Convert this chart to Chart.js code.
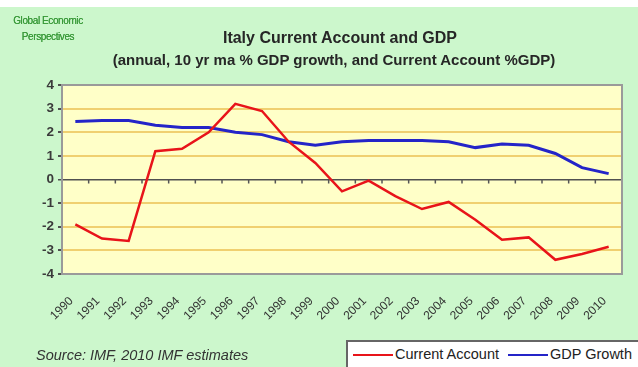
<!DOCTYPE html>
<html>
<head>
<meta charset="utf-8">
<title>Italy Current Account and GDP</title>
<script src="https://cdn.jsdelivr.net/npm/chart.js@4.4.1/dist/chart.umd.min.js"></script>
<style>
  body { margin: 0; background: #fff; }
  #wrap {
    position: relative; width: 638px; height: 367px; overflow: hidden;
    background: #ccf7cc; font-family: Arial, "Liberation Sans", sans-serif;
    border-top: 7px solid #fff; box-sizing: border-box;
  }
  #chart { position: absolute; left: 0; top: -7px; }
  .brand {
    position: absolute; left: 6px; top: 6px; width: 84px; text-align: center;
    color: #3a9a3a; font-size: 10px; line-height: 16px; letter-spacing: -0.4px;
    text-shadow: 0 0 0.4px #3a9a3a;
  }
  .title {
    position: absolute; text-align: center; white-space: nowrap;
    color: #262626; font-weight: bold;
  }
  .source {
    position: absolute; left: 36px; top: 340px; color: #333;
    font-style: italic; font-size: 14.5px;
  }
  .legend {
    position: absolute; left: 346px; top: 333px; width: 300px; height: 40px;
    background: #fff; border: 2px solid #666; box-sizing: border-box;
    font-size: 14.5px; color: #222; padding: 4px 0 0 5px; white-space: nowrap;
  }
  .legend span.sw { display: inline-block; width: 40px; height: 2px; vertical-align: middle; margin-right: 2px; }
  .legend span.lab { margin-right: 5px; }
</style>
</head>
<body>
<div id="wrap">
  <canvas id="chart" width="638" height="367"></canvas>
  <div class="brand">Global Economic<br>Perspectives</div>
  <div class="title" style="top:22px; left:140px; width:400px; font-size:16px">Italy Current Account and GDP</div>
  <div class="title" style="top:44px; left:84px; width:500px; font-size:15px">(annual, 10 yr ma % GDP growth, and Current Account %GDP)</div>
  <div class="source">Source: IMF, 2010 IMF estimates</div>
  <div class="legend">
    <span class="sw" style="background:#e8141a"></span><span class="lab">Current Account</span>
    <span class="sw" style="background:#2424c8"></span><span class="lab">GDP Growth</span>
  </div>
</div>
<script>
const years = ['1990', '1991', '1992', '1993', '1994', '1995', '1996', '1997', '1998', '1999', '2000',
  '2001', '2002', '2003', '2004', '2005', '2006', '2007', '2008', '2009', '2010'];
// current account balance, % of GDP
const currentAccount = [-1.9, -2.5, -2.6, 1.2, 1.3, 2.0, 3.2, 2.9, 1.6, 0.7, -0.5,
  -0.05, -0.7, -1.25, -0.95, -1.7, -2.55, -2.45, -3.4, -3.15, -2.85];
// 10 year moving average of GDP growth
const gdpGrowth = [2.45, 2.5, 2.5, 2.3, 2.2, 2.2, 2.0, 1.9, 1.6, 1.45, 1.6,
  1.65, 1.65, 1.65, 1.6, 1.35, 1.5, 1.45, 1.1, 0.5, 0.25];
const yTicks = [-4, -3, -2, -1, 0, 1, 2, 3, 4];

// yellow plot background, frame and the small ticks sitting on the zero line
const plotFrame = {
  id: 'plotFrame',
  beforeDraw(chart) {
    const { ctx, chartArea: a } = chart;
    ctx.save();
    ctx.fillStyle = '#ffffc8';
    ctx.fillRect(a.left, a.top, a.right - a.left, a.bottom - a.top);
    ctx.restore();
  },
  beforeDatasetsDraw(chart) {
    const { ctx, chartArea: a, scales } = chart;
    const x = scales.x, y0 = scales.y.getPixelForValue(0);
    const step = x.getPixelForValue(1) - x.getPixelForValue(0);
    ctx.save();
    ctx.strokeStyle = '#555';
    ctx.lineWidth = 1.5;
    ctx.beginPath();
    for (let i = 0; i <= years.length; i++) {
      const px = x.getPixelForValue(0) - step / 2 + i * step;
      ctx.moveTo(px, y0);
      ctx.lineTo(px, y0 + 4);
    }
    ctx.stroke();
    ctx.strokeStyle = '#9a9a9a';
    ctx.lineWidth = 2;
    ctx.strokeRect(a.left, a.top, a.right - a.left, a.bottom - a.top);
    ctx.restore();
  }
};

new Chart(document.getElementById('chart'), {
  type: 'line',
  data: {
    labels: years,
    datasets: [
      { label: 'Current Account', data: currentAccount, borderColor: '#e8141a', borderWidth: 2.5, pointRadius: 0, tension: 0 },
      { label: 'GDP Growth', data: gdpGrowth, borderColor: '#2424c8', borderWidth: 3, pointRadius: 0, tension: 0 }
    ]
  },
  options: {
    responsive: false,
    animation: false,
    layout: { padding: { top: 85, right: 16, left: 0, bottom: 0 } },
    plugins: { legend: { display: false }, tooltip: { enabled: false } },
    scales: {
      x: {
        offset: true,
        grid: { display: false },
        border: { color: '#9a9a9a', width: 2 },
        ticks: {
          minRotation: 45, maxRotation: 45, autoSkip: false, labelOffset: -4,
          color: '#333', font: { family: 'Arial, "Liberation Sans"', size: 12 }, padding: 12
        },
        afterFit(s) { s.height = 93; }
      },
      y: {
        min: -4, max: 4,
        afterBuildTicks(s) { s.ticks = yTicks.map(v => ({ value: v })); },
        ticks: { color: '#3a3a3a', font: { family: 'Arial, "Liberation Sans"', size: 13.5, weight: 'bold' }, padding: 4 },
        grid: {
          color: c => c.tick && c.tick.value === 0 ? '#505050' : '#f0d070',
          lineWidth: c => c.tick && c.tick.value === 0 ? 1.5 : 2,
          tickColor: '#505050', tickLength: 4
        },
        border: { color: '#505050', width: 2 },
        afterFit(s) { s.width = 62; }
      }
    }
  },
  plugins: [plotFrame]
});
</script>
</body>
</html>
